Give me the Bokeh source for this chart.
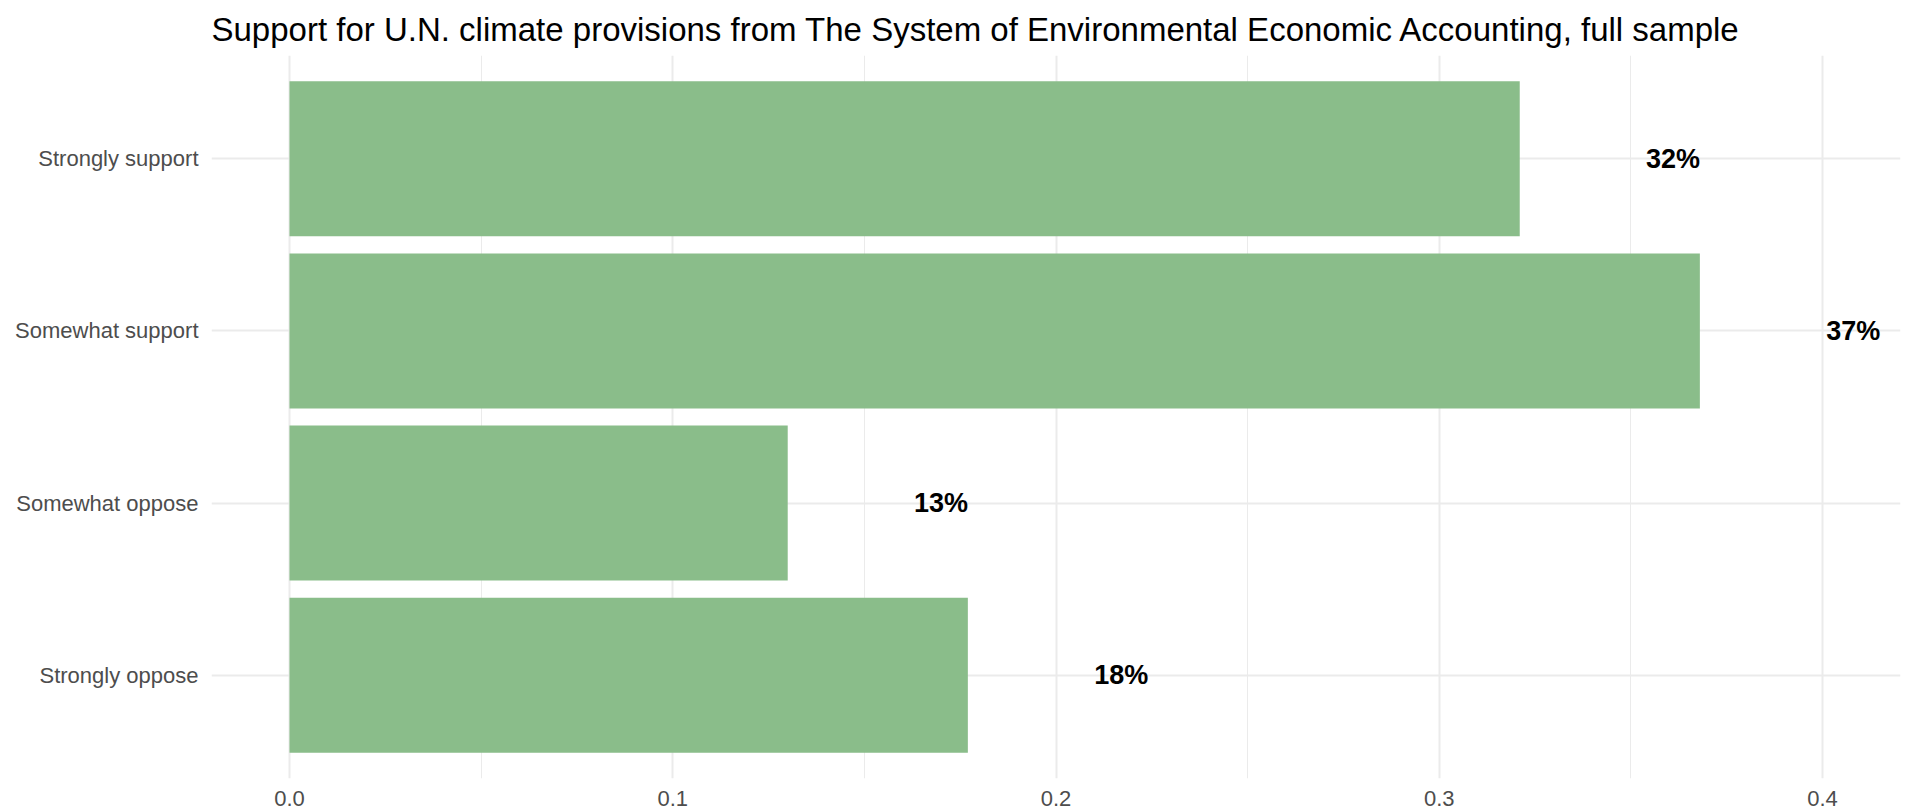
from bokeh.plotting import figure
from bokeh.models import ColumnDataSource, FactorRange, Range1d, FixedTicker, LabelSet
from bokeh.core.properties import value
from bokeh.embed import file_html
from bokeh.resources import INLINE

# ---- data ----
categories = ["Strongly oppose", "Somewhat oppose", "Somewhat support", "Strongly support"]
shares = [0.177, 0.130, 0.368, 0.321]
labels = ["18%", "13%", "37%", "32%"]
x_ticks = [0.0, 0.1, 0.2, 0.3, 0.4]
minor_ticks = [0.05, 0.15, 0.25, 0.35]

LABEL_OFFSET = 0.04
FONT = "Liberation Sans"

src = ColumnDataSource(dict(
    cat=categories,
    val=shares,
    lab=labels,
    lx=[v + LABEL_OFFSET for v in shares],
))

p = figure(
    width=1921, height=812,
    y_range=FactorRange(*categories, range_padding=0.05),
    x_range=Range1d(-0.02035, 0.42035),
    output_backend="svg", toolbar_location=None,
    title="Support for U.N. climate provisions from The System of Environmental Economic Accounting, full sample",
    min_border_left=211, min_border_right=21, min_border_top=55, min_border_bottom=34,
)

p.title.text_font = FONT
p.title.text_font_size = "33px"
p.title.text_font_style = "normal"
p.title.text_color = "#000000"
p.title.align = "left"
p.title.offset = 0
p.title.standoff = 16

p.hbar(y="cat", right="val", left=0, height=0.9, source=src,
       fill_color="#8abd8a", line_color=None)

p.add_layout(LabelSet(x="lx", y="cat", text="lab", source=src,
                      text_align="center", text_baseline="middle",
                      text_font=value(FONT), text_font_size=value("27px"),
                      text_font_style="bold", text_color="#000000"))

p.outline_line_color = None
p.background_fill_color = "white"
p.border_fill_color = "white"

p.xaxis.ticker = FixedTicker(ticks=x_ticks, minor_ticks=minor_ticks)
p.xaxis.major_label_overrides = {0.0: "0.0"}
for ax in (p.xaxis, p.yaxis):
    ax.axis_line_color = None
    ax.major_tick_line_color = None
    ax.minor_tick_line_color = None
    ax.major_tick_out = 0
    ax.major_tick_in = 0
    ax.minor_tick_out = 0
    ax.minor_tick_in = 0
    ax.major_label_text_font = FONT
    ax.major_label_text_font_size = "22px"
    ax.major_label_text_color = "#4d4d4d"
p.xaxis.major_label_standoff = 12
p.xaxis.major_label_text_line_height = 0.8
p.yaxis.major_label_standoff = 13

p.xgrid.grid_line_color = "#ebebeb"
p.xgrid.grid_line_width = 2
p.xgrid.minor_grid_line_color = "#ebebeb"
p.xgrid.minor_grid_line_width = 1
p.ygrid.grid_line_color = "#ebebeb"
p.ygrid.grid_line_width = 2

open("out.html", "w").write(file_html(p, INLINE))
